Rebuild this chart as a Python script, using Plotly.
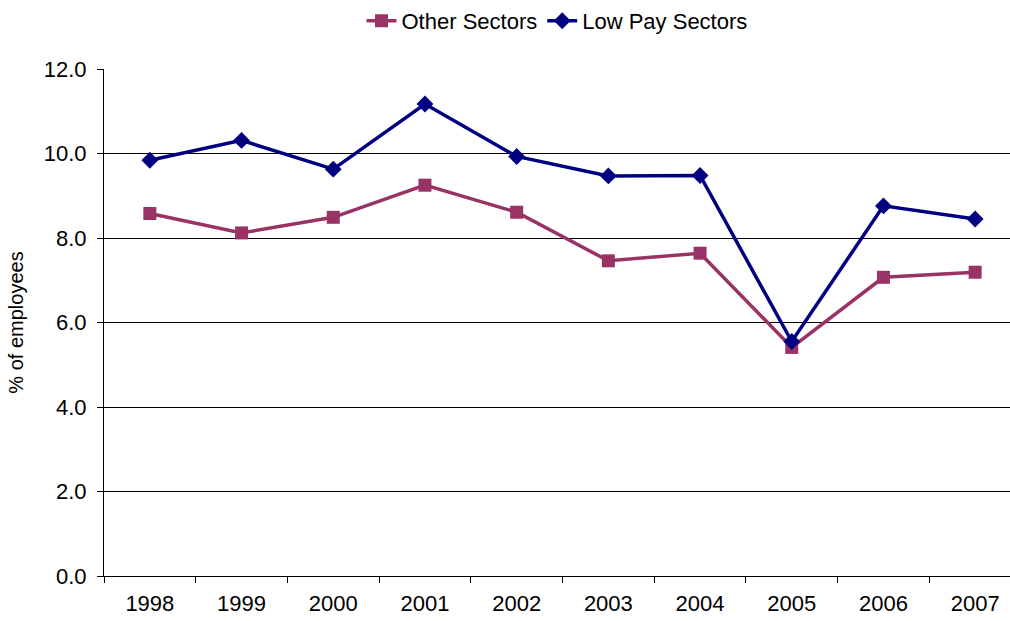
import plotly.graph_objects as go

years = ["1998", "1999", "2000", "2001", "2002", "2003", "2004", "2005", "2006", "2007"]
other_sectors = [8.58, 8.12, 8.49, 9.25, 8.61, 7.46, 7.64, 5.41, 7.07, 7.19]
low_pay_sectors = [9.84, 10.31, 9.63, 11.17, 9.93, 9.47, 9.48, 5.55, 8.76, 8.45]

fig = go.Figure()
fig.add_trace(go.Scatter(
    x=years, y=other_sectors, name="Other Sectors", mode="lines+markers",
    line=dict(color="#993366", width=3.5),
    marker=dict(symbol="square", size=13, color="#993366"),
))
fig.add_trace(go.Scatter(
    x=years, y=low_pay_sectors, name="Low Pay Sectors", mode="lines+markers",
    line=dict(color="#000080", width=3.5),
    marker=dict(symbol="diamond", size=13, color="#000080"),
))

fig.update_layout(
    width=1010, height=621,
    margin=dict(l=104, r=0, t=69, b=45),
    paper_bgcolor="white", plot_bgcolor="white",
    font=dict(family="Liberation Sans, Arial, sans-serif", size=22, color="black"),
    showlegend=True,
    legend=dict(orientation="h", x=0.5, xanchor="center", y=1.0, yanchor="top",
                yref="container", font=dict(size=22), itemwidth=30,
                tracegroupgap=0),
)
fig.update_xaxes(
    type="category", range=[-0.5, 9.38], showgrid=False,
    showline=True, linecolor="black", linewidth=1,
    ticks="outside", ticklen=6, tickcolor="black", tickson="boundaries",
    tickfont=dict(size=22), ticklabelstandoff=8, fixedrange=True,
)
fig.update_yaxes(
    range=[0, 12], dtick=2, tickformat=".1f",
    showgrid=True, gridcolor="black", gridwidth=1,
    showline=True, linecolor="black", linewidth=1,
    ticks="outside", ticklen=6, tickcolor="black",
    tickfont=dict(size=22), ticklabelstandoff=6, zeroline=False,
    title=dict(text="% of employees", font=dict(size=20), standoff=14),
)

fig.write_html("out.html")
